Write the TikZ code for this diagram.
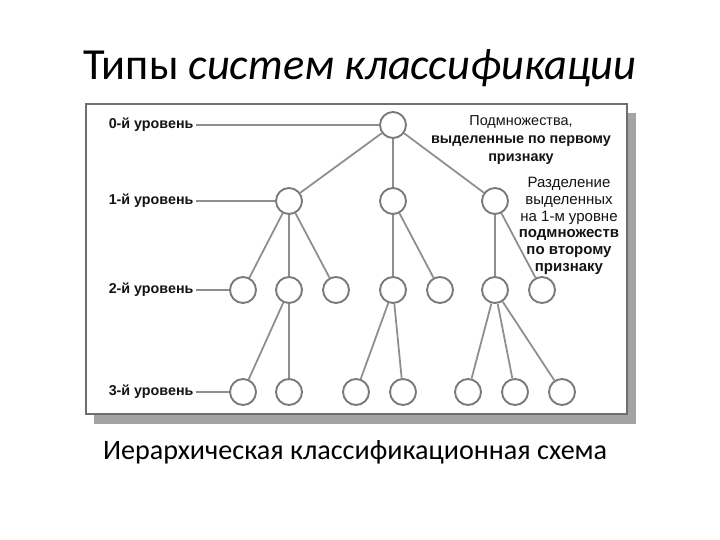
\documentclass[tikz,border=0pt]{standalone}
\usepackage{fontspec}
\setmainfont{Carlito}
\newfontfamily\arialfont{Liberation Sans}
\usetikzlibrary{positioning}
\definecolor{linegray}{HTML}{8E8E8E}
\definecolor{ringgray}{HTML}{7A7A7A}
\definecolor{framegray}{HTML}{6E6E6E}
\definecolor{shadowgray}{HTML}{A3A3A3}
\definecolor{textdark}{HTML}{141414}
\tikzset{
	vertex/.style = {circle, draw = ringgray, fill = white, line width = 1.6pt, minimum size = 0.78cm, inner sep = 0pt},
	edge/.style = {draw = linegray, line width = 1.5pt},
	levellabel/.style = {font = \arialfont\bfseries\fontsize{12.2}{14}\selectfont, text = textdark, inner sep = 2pt, anchor = east},
	notetext/.style = {font = \arialfont\fontsize{12.3}{15}\selectfont, text = textdark, align = center, inner sep = 0pt}
}
\begin{document}
\begin{tikzpicture}[x = 0.03cm, y = -0.03cm]
		\useasboundingbox (0,0) rectangle (720,540);
		% title and caption
		\node [anchor = base, font = \fontsize{37.9}{40}\selectfont] (title) at (360,80) {Типы \textit{систем классификации}};
		\node [anchor = base, font = \fontsize{24}{27}\selectfont] (caption) at (355,459) {Иерархическая классификационная схема};
		% frame with shadow
		\fill [shadowgray] (94,113) rectangle (636,424);
		\draw [draw = framegray, fill = white, line width = 2pt] (86,104) rectangle (627,414);
		% levels
		\node [vertex] (root) at (393,125) {};
		\node [vertex] (a) at (289,201) {};
		\node [vertex] (b) at (393,201) {};
		\node [vertex] (c) at (495,201) {};
		\node [vertex] (a1) at (243,290) {};
		\node [vertex] (a2) at (289,290) {};
		\node [vertex] (a3) at (336,290) {};
		\node [vertex] (b1) at (393,290) {};
		\node [vertex] (b2) at (440,290) {};
		\node [vertex] (c1) at (495,290) {};
		\node [vertex] (c2) at (542,290) {};
		\node [vertex] (a21) at (243,392) {};
		\node [vertex] (a22) at (289,392) {};
		\node [vertex] (b11) at (356,392) {};
		\node [vertex] (b12) at (403,392) {};
		\node [vertex] (c11) at (468,392) {};
		\node [vertex] (c12) at (515,392) {};
		\node [vertex] (c13) at (562,392) {};
		% connections
		\draw [edge] (root) -- (a);
		\draw [edge] (root) -- (b);
		\draw [edge] (root) -- (c);
		\draw [edge] (a) -- (a1);
		\draw [edge] (a) -- (a2);
		\draw [edge] (a) -- (a3);
		\draw [edge] (b) -- (b1);
		\draw [edge] (b) -- (b2);
		\draw [edge] (c) -- (c1);
		\draw [edge] (c) -- (c2);
		\draw [edge] (a2) -- (a21);
		\draw [edge] (a2) -- (a22);
		\draw [edge] (b1) -- (b11);
		\draw [edge] (b1) -- (b12);
		\draw [edge] (c1) -- (c11);
		\draw [edge] (c1) -- (c12);
		\draw [edge] (c1) -- (c13);
		% level labels
		\node [levellabel] (lvl0) at (196,125) {0-й уровень};
		\node [levellabel] (lvl1) at (196,201) {1-й уровень};
		\node [levellabel] (lvl2) at (196,290) {2-й уровень};
		\node [levellabel] (lvl3) at (196,392) {3-й уровень};
		\draw [edge] (lvl0.east) -- (root);
		\draw [edge] (lvl1.east) -- (a);
		\draw [edge] (lvl2.east) -- (a1);
		\draw [edge] (lvl3.east) -- (a21);
		% notes
		\node [notetext] (note1) at (521,140) {Подмножества,\\ \bfseries выделенные по первому\\ \bfseries признаку};
		\node [notetext, font = \arialfont\fontsize{12.8}{14.3}\selectfont] (note2) at (569,226) {Разделение\\ выделенных\\ на 1-м уровне\\ \bfseries подмножеств\\ \bfseries по второму\\ \bfseries признаку};
	\end{tikzpicture}
\end{document}
